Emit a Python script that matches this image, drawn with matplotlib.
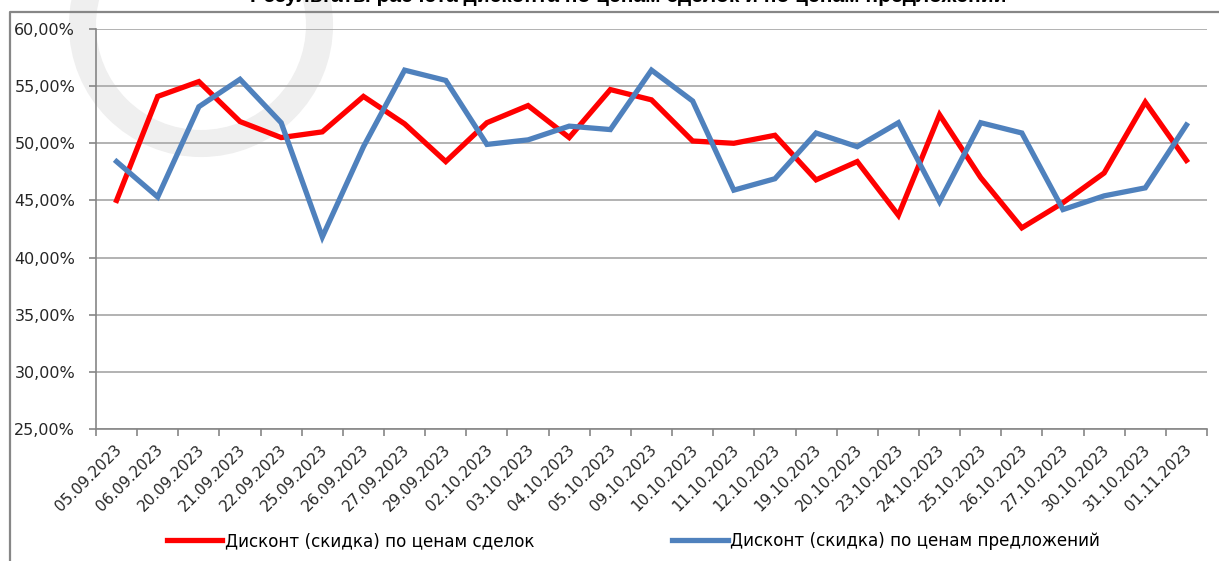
import matplotlib.pyplot as plt
from matplotlib.patches import Circle
from matplotlib.lines import Line2D
from matplotlib.ticker import FuncFormatter, FixedLocator
import matplotlib.transforms as mtransforms

plt.rcParams['font.family'] = ['DejaVu Sans']

dates = ['05.09.2023', '06.09.2023', '20.09.2023', '21.09.2023', '22.09.2023',
         '25.09.2023', '26.09.2023', '27.09.2023', '29.09.2023', '02.10.2023',
         '03.10.2023', '04.10.2023', '05.10.2023', '09.10.2023', '10.10.2023',
         '11.10.2023', '12.10.2023', '19.10.2023', '20.10.2023', '23.10.2023',
         '24.10.2023', '25.10.2023', '26.10.2023', '27.10.2023', '30.10.2023',
         '31.10.2023', '01.11.2023']

# Дисконт по ценам сделок, %
deals = [45.0, 54.1, 55.4, 51.9, 50.5, 51.0, 54.1, 51.7, 48.4, 51.8,
         53.3, 50.5, 54.7, 53.8, 50.2, 50.0, 50.7, 46.8, 48.4, 43.7,
         52.5, 47.0, 42.6, 44.8, 47.4, 53.6, 48.5]

# Дисконт по ценам предложений, %
offers = [48.4, 45.3, 53.2, 55.6, 51.8, 41.8, 49.7, 56.4, 55.5, 49.9,
          50.3, 51.5, 51.2, 56.4, 53.7, 45.9, 46.9, 50.9, 49.7, 51.8,
          44.9, 51.8, 50.9, 44.2, 45.4, 46.1, 51.6]

label_deals = 'Дисконт (скидка) по ценам сделок'
label_offers = 'Дисконт (скидка) по ценам предложений'
title = 'Результаты расчета дисконта по ценам сделок и по ценам предложений'

W, H = 1219, 561
fig = plt.figure(figsize=(W / 100, H / 100), dpi=100)

# faint watermark ring behind the chart
ring = Circle((2.01, (H - 25) / 100), 1.185, transform=fig.dpi_scale_trans,
              fill=False, edgecolor='#efefef', linewidth=19.5, zorder=-5)
fig.patches.append(ring)

# chart area frame (left and top)
fig.add_artist(Line2D([10 / W, 10 / W, 1.0], [0.0, 1 - 12 / H, 1 - 12 / H],
                      color='#878787', linewidth=1.6))

# title, cut off at the very top of the picture
fig.text(0.515, 1 - 2 / H, title, ha='center', va='baseline',
         fontsize=15, fontweight='bold', family='Liberation Sans')

ax = fig.add_axes([96 / W, 1 - 429 / H, (1207 - 96) / W, 400 / H])
ax.set_facecolor('none')

x = list(range(len(dates)))
ax.plot(x, deals, color='#ff0000', linewidth=3.8, label=label_deals,
        solid_joinstyle='miter', zorder=3)
ax.plot(x, offers, color='#4f81bd', linewidth=3.8, label=label_offers,
        solid_joinstyle='miter', zorder=3)

ax.set_xlim(-0.5, len(dates) - 0.5)
ax.set_ylim(25, 60)
ax.set_yticks(range(25, 61, 5))
ax.yaxis.set_major_formatter(FuncFormatter(lambda v, p: f'{v:.2f}%'.replace('.', ',')))
ax.yaxis.grid(True, color='#a6a6a6', linewidth=1.2)
ax.set_axisbelow(True)

# ticks between categories, labels at centers
ax.xaxis.set_major_locator(FixedLocator([i - 0.5 for i in range(len(dates) + 1)]))
ax.xaxis.set_minor_locator(FixedLocator(x))
ax.set_xticklabels([], minor=False)
ax.set_xticklabels(dates, minor=True, rotation=45, ha='right', va='center',
                   rotation_mode='anchor', fontsize=11)
ax.tick_params(axis='x', which='major', length=5, color='#868686', width=1.2)
ax.tick_params(axis='x', which='minor', length=0, pad=0)
ax.tick_params(axis='y', length=5, color='#868686', width=1.2, labelsize=11.5,
               labelcolor='#262626', pad=10)
offset = mtransforms.ScaledTranslation(3 / 100, -18 / 100, fig.dpi_scale_trans)
for lab in ax.get_xticklabels(minor=True):
    lab.set_transform(lab.get_transform() + offset)
    lab.set_color('#262626')

for s in ['top', 'right']:
    ax.spines[s].set_visible(False)
for s in ['left', 'bottom']:
    ax.spines[s].set_color('#868686')
    ax.spines[s].set_linewidth(1.2)

fig.legend(loc='center', bbox_to_anchor=(0.5197, 1 - 541 / H), ncol=2,
           frameon=False, fontsize=12.1, handlelength=3.3, handletextpad=0.15,
           columnspacing=8.2)

fig.savefig('out.png', dpi=100)
